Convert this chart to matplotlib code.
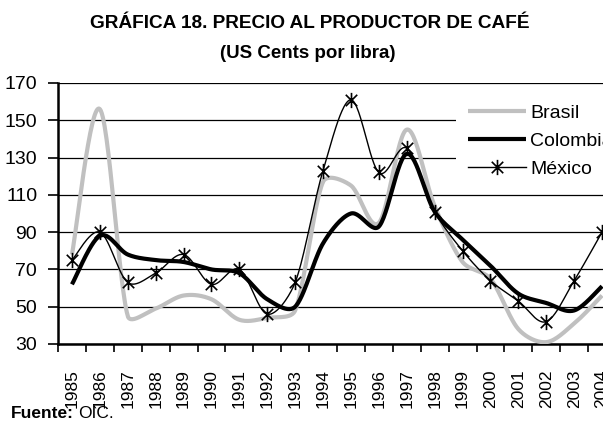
# plot.py
import numpy as np
import matplotlib
matplotlib.use("Agg")
import matplotlib.pyplot as plt
from matplotlib.path import Path

# -----------------------------
# Data (US cents per pound)
# -----------------------------
years = [str(y) for y in range(1985, 2005)]
brasil = [78, 156, 45, 49, 56, 54, 43, 44, 48, 117, 115, 95, 145, 104, 74, 65, 38, 31, 41, 56]
colombia = [62, 88, 78, 75, 74, 70, 68, 54, 50, 84, 100, 93, 132, 101, 86, 72, 57, 52, 48, 61]
mexico = [75, 90, 63, 68, 78, 62, 70, 46, 63, 123, 161, 122, 135, 101, 80, 64, 53, 42, 64, 90]
yticks = [30, 50, 70, 90, 110, 130, 150, 170]

plt.rcParams['font.family'] = ['Liberation Sans', 'DejaVu Sans']


def smooth(ax, xs, ys, n=30):
    # Catmull-Rom style bezier through every point (screen space),
    # control arms capped at 1/3 of the segment so steep drops don't overshoot
    P = ax.transData.transform(np.column_stack([xs, ys]).astype(float))
    m = len(P)
    out = [P[:1]]
    t = np.linspace(0, 1, n)[1:, None]

    def arm(T, d):
        L = np.linalg.norm(T) / 6
        cap = d / 3
        if L > cap and L > 0:
            return T / 6 * (cap / L)
        return T / 6

    for i in range(m - 1):
        a, b = P[i], P[i + 1]
        d = np.linalg.norm(b - a)
        ta = P[min(i + 1, m - 1)] - P[max(i - 1, 0)]
        tb = P[min(i + 2, m - 1)] - P[i]
        c1 = a + arm(ta, d)
        c2 = b - arm(tb, d)
        seg = (1 - t) ** 3 * a + 3 * (1 - t) ** 2 * t * c1 + 3 * (1 - t) * t ** 2 * c2 + t ** 3 * b
        out.append(seg)
    curve = ax.transData.inverted().transform(np.vstack(out))
    return curve[:, 0], curve[:, 1]


# asterisk-like marker: vertical bar plus an X
star = Path([(0, -1), (0, 1), (-0.75, -0.75), (0.75, 0.75), (-0.75, 0.75), (0.75, -0.75)],
            [Path.MOVETO, Path.LINETO, Path.MOVETO, Path.LINETO, Path.MOVETO, Path.LINETO])

fig = plt.figure(figsize=(6.03, 4.22), dpi=100)
ax = fig.add_axes([58 / 603, 1 - 344 / 422, 558 / 603, 261 / 422])

x = np.arange(len(years))
ax.set_xlim(-0.5, len(years) - 0.5)
ax.set_ylim(30, 170)

ax.plot(*smooth(ax, x, brasil), color='#c0c0c0', lw=3.0, solid_capstyle='butt', label='Brasil', zorder=3)
ax.plot(*smooth(ax, x, colombia), color='black', lw=3.0, solid_capstyle='butt', label='Colombia', zorder=4)
ax.plot(*smooth(ax, x, mexico), color='black', lw=1.0, zorder=5)
ax.plot(x, mexico, ls='none', marker=star, ms=11, mec='black', mew=1.2, zorder=6)

# legend proxy for Mexico
ax.plot([], [], color='black', lw=1.0, marker=star, ms=11, mec='black', mew=1.2, label='México')

ax.set_yticks(yticks)
ax.yaxis.grid(True, color='black', lw=0.9)
ax.set_axisbelow(True)

ax.set_xticks(np.arange(len(years) + 1) - 0.5)
ax.set_xticklabels([])
ax.set_xticks(x, minor=True)
ax.set_xticklabels(years, minor=True, rotation=90, fontsize=12.5)
ax.tick_params(axis='x', which='major', length=6, width=1.2, direction='out')
ax.tick_params(axis='x', which='minor', length=0, pad=18)
ax.tick_params(axis='y', length=7, width=1.2, pad=8, labelsize=14)

for s in ['top', 'right']:
    ax.spines[s].set_visible(False)
for s in ['left', 'bottom']:
    ax.spines[s].set_linewidth(1.8)

leg = ax.legend(loc='upper left', bbox_to_anchor=(456 / 603, 1 - 93 / 422),
                bbox_transform=fig.transFigure, borderaxespad=0, frameon=True,
                fancybox=False, edgecolor='none', facecolor='white', framealpha=1,
                fontsize=14, handlelength=3.0, handletextpad=0.2, labelspacing=0.52,
                borderpad=0.6)

fig.text(310 / 603, 1 - 24 / 422, 'GRÁFICA 18. PRECIO AL PRODUCTOR DE CAFÉ',
         ha='center', va='center', fontsize=13.7, fontweight='bold')
fig.text(308 / 603, 1 - 53 / 422, '(US Cents por libra)',
         ha='center', va='center', fontsize=13.5, fontweight='bold')

# source note: "Fuente:" bold followed by regular text
fuente = fig.text(11 / 603, 1 - 418 / 422, 'Fuente:', ha='left', va='baseline',
                  fontsize=12.5, fontweight='bold')
fig.canvas.draw()
bb = fuente.get_window_extent()
fig.text((bb.x1 + 4) / 603, 1 - 418 / 422, 'OIC.', ha='left', va='baseline', fontsize=12.5)

fig.savefig('out.png', dpi=100)
